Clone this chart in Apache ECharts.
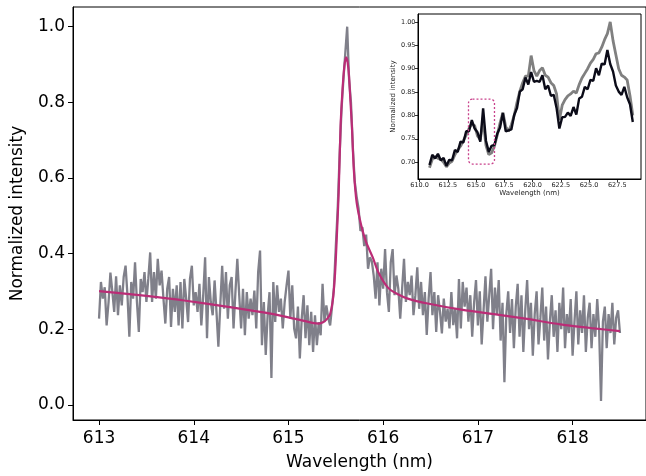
<!DOCTYPE html>
<html><head><meta charset="utf-8">
<script src="https://cdn.jsdelivr.net/npm/echarts@6/dist/echarts.min.js"></script>
<style>html,body{margin:0;padding:0;background:#fff}#c{width:646px;height:476px}</style>
</head><body><div id="c"></div>
<script>
// ---- main spectrum (gray, measured) ----
const grayStart = 613.0, grayEnd = 618.5;
const grayIntensity = [
  0.228,0.325,0.281,0.311,0.21,0.27,0.35,0.30,0.246,0.34,0.237,0.316,0.263,0.338,0.368,0.29,0.18,0.325,0.281,0.377,
  0.272,0.193,0.333,0.298,0.351,0.272,0.333,0.403,0.272,0.351,0.281,0.386,0.316,0.355,0.281,0.215,0.307,0.338,0.206,0.307,
  0.246,0.316,0.21,0.325,0.202,0.333,
  0.281,0.219,0.333,0.368,0.263,0.298,0.246,0.32,0.21,0.29,0.39,0.176,0.338,0.272,0.237,0.329,0.246,0.154,0.263,0.368,
  0.254,0.351,0.228,0.316,0.338,0.202,0.298,0.386,0.29,0.202,0.307,0.184,0.298,0.228,0.281,0.237,0.302,0.202,0.351,0.408,
  0.158,0.272,0.132,0.237,0.298,0.071,0.325,0.219,
  0.316,0.246,0.281,0.202,0.272,0.316,0.355,0.228,0.316,0.202,0.176,0.26,0.123,0.228,0.29,0.176,0.263,0.158,0.246,0.14,
  0.237,0.158,0.219,0.184,0.32,0.219,0.263,
  0.23,0.21,0.26,0.31,0.42,0.52,0.66,0.78,0.86,0.93,1.0,0.86,0.80,0.68,0.59,0.55,0.52,0.46,0.47,0.42,0.45,0.36,0.39,0.38,
  0.342,0.281,0.377,0.263,0.36,0.307,0.412,0.298,0.246,0.377,0.412,0.29,0.342,0.307,0.228,0.307,0.386,0.272,0.325,0.29,
  0.342,0.237,0.29,0.364,0.254,0.325,0.237,0.298,0.185,0.281,0.351,0.237,0.298,0.193,0.29,0.246,0.189,0.281,0.22,0.254,
  0.202,0.298,0.211,0.254,0.176,0.333,0.202,0.325,
  0.26,0.31,0.22,0.29,0.18,0.27,0.33,0.21,0.30,0.16,
  0.25,0.34,0.22,0.29,0.36,0.20,0.31,0.24,0.33,0.17,
  0.27,0.06,0.24,0.30,0.19,0.28,0.15,0.26,0.32,0.18,
  0.29,0.14,0.25,0.33,0.20,0.27,0.13,0.24,0.30,0.16,
  0.23,0.31,0.17,0.26,0.12,0.22,0.29,0.18,0.25,0.14,
  0.27,0.20,0.31,0.15,0.24,0.19,0.28,0.13,0.22,0.30,
  0.16,0.25,0.19,0.29,0.14,0.23,0.27,0.15,0.24,0.18,
  0.28,0.20,0.01,0.22,0.26,0.15,0.24,0.19,0.27,0.16,
  0.23,0.25,0.19
];

// ---- fit (magenta) ----
const fitWavelength = [613.00,613.50,613.90,614.40,614.84,615.06,615.20,615.27,615.32,615.37,615.41,615.44,615.47,615.49,
  615.50,615.515,615.53,615.55,615.565,615.58,615.595,615.61,615.625,615.64,615.655,615.67,615.69,615.72,615.77,615.82,
  615.89,615.95,616.05,616.15,616.26,616.47,616.84,617.17,617.50,617.87,618.20,618.50];
const fitIntensity = [0.301,0.288,0.276,0.258,0.240,0.228,0.220,0.216,0.215,0.219,0.228,0.240,0.280,0.340,
  0.386,0.470,0.561,0.736,0.810,0.867,0.905,0.919,0.905,0.867,0.800,0.736,0.622,0.535,0.473,0.430,
  0.390,0.350,0.310,0.293,0.281,0.268,0.251,0.240,0.228,0.213,0.203,0.195];

const mainXTicks = [613,614,615,616,617,618];
const mainYTicks = [0,0.2,0.4,0.6,0.8,1.0];

// ---- inset ----
const insetStart = 610.875, insetStep = 0.25;
const insetGray = [0.688,0.706,0.712,0.708,0.706,0.700,0.690,0.698,0.702,0.716,0.726,0.734,0.746,0.758,0.772,0.782,0.778,0.756,0.748,0.790,
  0.736,0.716,0.720,0.734,0.758,0.784,0.806,0.776,0.766,0.780,0.800,0.828,0.852,0.870,0.884,0.884,0.928,0.896,0.884,0.896,
  0.902,0.886,0.882,0.870,0.864,0.846,0.790,0.822,0.834,0.842,0.846,0.852,0.848,0.866,0.880,0.890,0.900,0.912,0.920,0.932,
  0.934,0.946,0.962,0.975,1.000,0.960,0.930,0.900,0.886,0.882,0.876,0.842,0.800];
const insetBlack = [0.694,0.716,0.708,0.718,0.704,0.709,0.692,0.705,0.704,0.726,0.722,0.744,0.742,0.766,0.766,0.790,0.772,0.764,0.744,0.815,
  0.746,0.722,0.735,0.737,0.761,0.774,0.805,0.766,0.768,0.770,0.801,0.816,0.851,0.856,0.881,0.866,0.893,0.872,0.874,0.872,
  0.886,0.856,0.864,0.842,0.844,0.816,0.772,0.796,0.797,0.806,0.799,0.818,0.802,0.836,0.840,0.861,0.856,0.876,0.874,0.901,
  0.886,0.911,0.909,0.940,0.910,0.894,0.864,0.851,0.844,0.861,0.839,0.824,0.786];
const insetXTicks = [610,612.5,615,617.5,620,622.5,625,627.5];
const insetYTicks = [0.70,0.75,0.80,0.85,0.90,0.95,1.00];
const highlightBox = {x0:614.33, x1:616.63, y0:0.696, y1:0.835};

// ---- build ----
const gStep = (grayEnd - grayStart) / (grayIntensity.length - 1);
const grayData = grayIntensity.map((v,i)=>[grayStart + i*gStep, v]);
const fitData = fitWavelength.map((w,i)=>[w, fitIntensity[i]]);
const insetGrayData = insetGray.map((v,i)=>[insetStart + i*insetStep, v]);
const insetBlackData = insetBlack.map((v,i)=>[insetStart + i*insetStep, v]);

const FF = 'DejaVu Sans';
const chart = echarts.init(document.getElementById('c'), null, {renderer:'canvas'});
chart.setOption({
  animation:false,
  backgroundColor:'#fff',
  grid:[
    {left:73, top:7, right:-4, bottom:54, show:true, borderColor:'#000', borderWidth:1, backgroundColor:'transparent'},
    {left:418, top:14, width:223, height:165, show:true, borderColor:'#000', borderWidth:1, backgroundColor:'#fff', z:10}
  ],
  xAxis:[
    {gridIndex:0, type:'value', min:612.725, max:618.775,
     axisLine:{show:true, onZero:false, lineStyle:{color:'#000', width:1}},
     axisTick:{show:true, length:5, customValues:mainXTicks, lineStyle:{color:'#000', width:1}},
     axisLabel:{customValues:mainXTicks, color:'#000', fontSize:17, fontFamily:FF, margin:10,
       formatter:v=>String(Math.round(v))},
     splitLine:{show:false},
     name:'Wavelength (nm)', nameLocation:'middle', nameGap:34,
     nameTextStyle:{color:'#000', fontSize:17, fontFamily:FF}},
    {gridIndex:1, type:'value', min:609.86, max:629.6, z:11,
     axisLine:{show:true, onZero:false, lineStyle:{color:'#000', width:1}},
     axisTick:{show:true, length:3, customValues:insetXTicks, lineStyle:{color:'#000', width:0.8}},
     axisLabel:{customValues:insetXTicks, color:'#222', fontSize:6.5, fontFamily:FF, margin:2.5,
       formatter:v=>v.toFixed(1)},
     splitLine:{show:false},
     name:'Wavelength (nm)', nameLocation:'middle', nameGap:11,
     nameTextStyle:{color:'#222', fontSize:7, fontFamily:FF}}
  ],
  yAxis:[
    {gridIndex:0, type:'value', min:-0.04, max:1.052,
     axisLine:{show:true, onZero:false, lineStyle:{color:'#000', width:1}},
     axisTick:{show:true, length:5, customValues:mainYTicks, lineStyle:{color:'#000', width:1}},
     axisLabel:{customValues:mainYTicks, color:'#000', fontSize:17, fontFamily:FF, margin:8,
       formatter:v=>v.toFixed(1)},
     splitLine:{show:false},
     name:'Normalized intensity', nameLocation:'middle', nameGap:47, nameRotate:90,
     nameTextStyle:{color:'#000', fontSize:17, fontFamily:FF}},
    {gridIndex:1, type:'value', min:0.664, max:1.017, z:11,
     axisLine:{show:true, onZero:false, lineStyle:{color:'#000', width:1}},
     axisTick:{show:true, length:3, customValues:insetYTicks, lineStyle:{color:'#000', width:0.8}},
     axisLabel:{customValues:insetYTicks, color:'#222', fontSize:6.5, fontFamily:FF, margin:2.5,
       formatter:v=>v.toFixed(2)},
     splitLine:{show:false},
     name:'Normalized intensity', nameLocation:'middle', nameGap:21, nameRotate:90,
     nameTextStyle:{color:'#222', fontSize:7, fontFamily:FF}}
  ],
  series:[
    {type:'line', xAxisIndex:0, yAxisIndex:0, data:grayData, showSymbol:false, symbol:'none',
     lineStyle:{color:'#80808a', width:2.3}, z:2},
    {type:'line', xAxisIndex:0, yAxisIndex:0, data:fitData, showSymbol:false, symbol:'none', smooth:0.25,
     lineStyle:{color:'#bb2c76', width:2.2}, z:3},
    {type:'line', xAxisIndex:1, yAxisIndex:1, data:insetGrayData, showSymbol:false, symbol:'none',
     lineStyle:{color:'#808080', width:2.8}, z:12},
    {type:'line', xAxisIndex:1, yAxisIndex:1, data:insetBlackData, showSymbol:false, symbol:'none',
     lineStyle:{color:'#0b0b18', width:2.4}, z:13}
  ]
});
const p1 = chart.convertToPixel({xAxisIndex:1, yAxisIndex:1}, [highlightBox.x0, highlightBox.y1]);
const p2 = chart.convertToPixel({xAxisIndex:1, yAxisIndex:1}, [highlightBox.x1, highlightBox.y0]);
chart.setOption({graphic:[{type:'rect', z:100,
  shape:{x:p1[0], y:p1[1], width:p2[0]-p1[0], height:p2[1]-p1[1], r:4},
  style:{fill:'none', stroke:'#c9428c', lineWidth:1.3, lineDash:[2,2]}}]});
</script></body></html>
